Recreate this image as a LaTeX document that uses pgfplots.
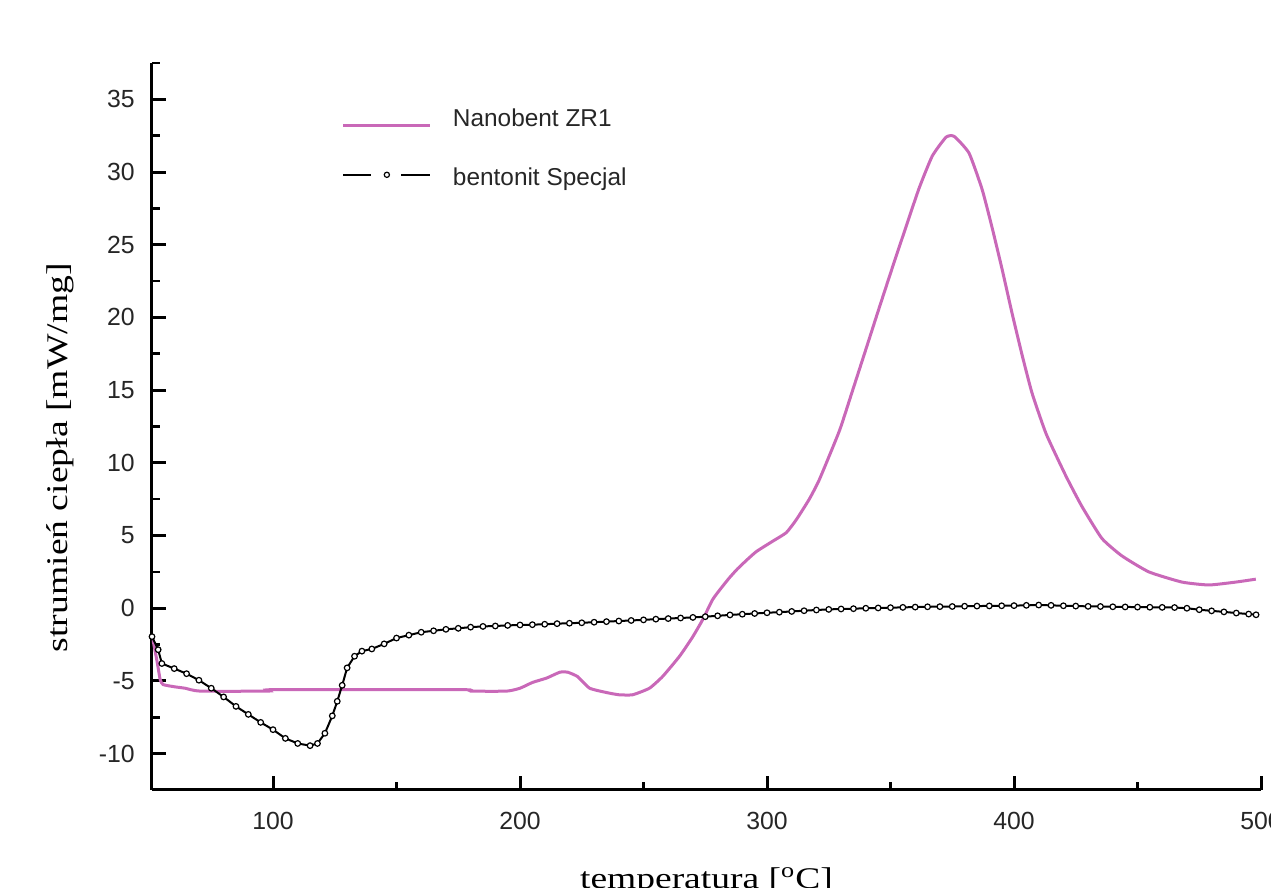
\documentclass[border=0pt]{standalone}
\usepackage{pgfplots}
\pgfplotsset{compat=1.18}
\usepackage{fontspec}
\setmainfont{Liberation Sans}
\newfontfamily\serif{Liberation Serif}
\definecolor{pinkline}{RGB}{201,104,184}

\begin{document}
\begin{tikzpicture}
\begin{axis}[
  scale only axis, width=554.5pt, height=363.5pt,
  xmin=51, xmax=500, ymin=-12.5, ymax=37.5,
  axis lines*=left,
  axis line style={line width=1.5pt, black},
  xtick={100,200,300,400,500}, xticklabels={100,200,300,400,500},
  minor xtick={150,250,350,450},
  ytick={-10,-5,0,5,10,15,20,25,30,35},
  yticklabels={-10,-5,0,5,10,15,20,25,30,35},
  minor ytick={-7.5,-2.5,2.5,7.5,12.5,17.5,22.5,27.5,32.5,37.5},
  tick align=inside,
  major tick length=7pt, minor tick length=4pt,
  every major tick/.append style={line width=1.5pt, black},
  every minor tick/.append style={line width=1.3pt, black},
  tick label style={font=\fontsize{12.4}{14}\selectfont, text=black!85},
  yticklabel style={inner sep=0pt, xshift=-8.5pt},
  xticklabel style={inner sep=0pt, yshift=-11pt},
  xlabel={\scalebox{1.25}[1]{\serif\fontsize{15}{18}\selectfont temperatura [\textsuperscript{o}C]}},
  xlabel style={at={(axis description cs:0.5,0)}, anchor=north, inner sep=0pt, yshift=-38.5pt},
  ylabel={\scalebox{1.255}[1]{\serif\fontsize{15}{18}\selectfont strumień ciepła [mW/mg]}},
  ylabel style={at={([xshift=-42.25pt]axis description cs:0,0.457)}, anchor=base, inner sep=0pt},
  legend cell align=left,
  legend style={draw=none, fill=none, inner sep=0pt, outer sep=0pt,
    at={(axis description cs:0.1713,0.937)}, anchor=north west,
    font=\fontsize{12.2}{14}\selectfont, text=black!85,
    row sep=17.5pt,
    nodes={inner sep=0pt, text height=9pt, text depth=3pt},
    /tikz/every odd column/.append style={column sep=10.5pt}},
]
\addplot[pinkline, line width=1.5pt, smooth, tension=0.3,
  legend image code/.code={\draw[pinkline, line width=1.5pt] (0pt,-2.5pt) -- (43.5pt,-2.5pt);}]
  coordinates {
(51.1,-1.9) (53.1,-3.7) (54.3,-4.9) (55.5,-5.25) (60,-5.4) (64.4,-5.5) (70.5,-5.7)
(98,-5.7) (100,-5.6) (176.8,-5.6) (180,-5.7) (194.6,-5.7) (200,-5.5) (205.1,-5.1)
(210.8,-4.8) (216.1,-4.4) (219.3,-4.4) (223.3,-4.7) (228.2,-5.5) (235.1,-5.8)
(240,-5.95) (245.6,-5.95) (252.4,-5.5) (257.7,-4.7) (264.6,-3.3) (269.8,-2.0)
(273.9,-0.8) (278.0,0.6) (281.5,1.4) (284.8,2.1) (288,2.7) (291.7,3.3) (295.7,3.9)
(302.2,4.6) (307.8,5.2) (311.9,6.1) (317.1,7.5) (321.2,8.85) (329.3,12.2)
(334.5,14.9) (340.2,17.9) (345.5,20.7) (350.7,23.4) (356.4,26.3) (361.6,28.9)
(366.9,31.1) (372.5,32.4) (375.8,32.45) (381.8,31.3) (387.1,28.8) (391.1,26.2)
(395.2,23.3) (399.2,20.3) (403.3,17.4) (407.3,14.8) (413.0,12.0) (421,9.1)
(427.5,7.0) (435.6,4.8) (443.7,3.6) (454.6,2.5) (468.0,1.8) (478.9,1.6)
(489.8,1.8) (497.9,2.0)
};
\addlegendentry{Nanobent ZR1}
\addplot[black, line width=1pt, mark=*, mark size=1.4pt,
  mark options={fill=white, draw=black, line width=0.6pt, solid},
  legend image code/.code={
    \draw[black, line width=1pt] (0pt,2.5pt) -- (14pt,2.5pt) (29pt,2.5pt) -- (43.5pt,2.5pt);
    \draw[black, line width=0.6pt, fill=white] (21.7pt,2.5pt) circle (1.3pt);}]
  coordinates {
(51,-1.95) (53.5,-2.85) (55,-3.8) (60,-4.15) (65,-4.5) (70,-4.95) (75,-5.5)
(80,-6.1) (85,-6.75) (90,-7.3) (95,-7.85) (100,-8.35) (105,-8.95) (110,-9.3)
(115,-9.45) (118,-9.3) (121,-8.6) (124,-7.4) (126,-6.4) (128,-5.3) (130,-4.1)
(133,-3.3) (136,-2.95) (140,-2.8) (145,-2.45) (150,-2.05) (155,-1.85) (160,-1.65)
(165,-1.55) (170,-1.45) (175,-1.38) (180,-1.3) (185,-1.25) (190,-1.22) (195,-1.18)
(200,-1.15) (205,-1.13) (210,-1.1) (215,-1.06) (220,-1.03) (225,-1.0) (230,-0.96)
(235,-0.92) (240,-0.88) (245,-0.84) (250,-0.8) (255,-0.75) (260,-0.71) (265,-0.67)
(270,-0.63) (275,-0.58) (280,-0.52) (285,-0.46) (290,-0.41) (295,-0.36) (300,-0.31)
(305,-0.27) (310,-0.22) (315,-0.17) (320,-0.12) (325,-0.08) (330,-0.05) (335,-0.03)
(340,0.0) (345,0.02) (350,0.04) (355,0.06) (360,0.08) (365,0.1) (370,0.11)
(375,0.12) (380,0.14) (385,0.15) (390,0.16) (395,0.17) (400,0.18) (405,0.2)
(410,0.22) (415,0.2) (420,0.17) (425,0.15) (430,0.13) (435,0.12) (440,0.1)
(445,0.09) (450,0.08) (455,0.07) (460,0.06) (465,0.05) (470,0.0) (475,-0.1)
(480,-0.18) (485,-0.25) (490,-0.33) (495,-0.4) (498,-0.45)
};
\addlegendentry{bentonit Specjal}
\end{axis}
\pgfresetboundingbox
\useasboundingbox (-76pt,-49pt) rectangle (559.5pt,395pt);
\end{tikzpicture}
\end{document}
